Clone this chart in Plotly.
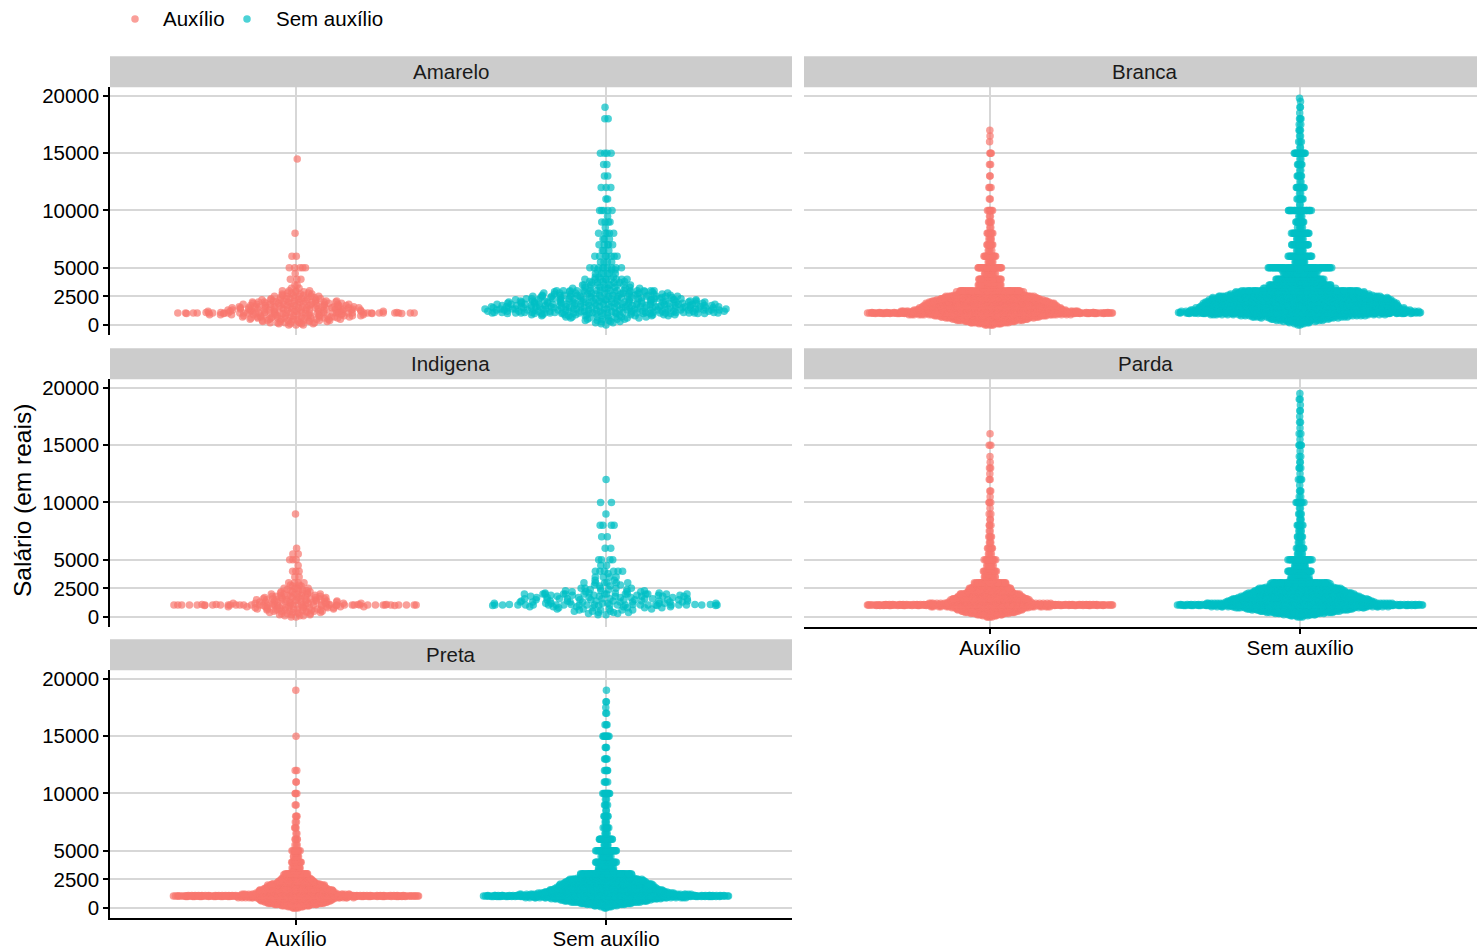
import numpy as np
import plotly.graph_objects as go

W, H = 1477, 949
COR_AUXILIO = "#F8766D"
COR_SEM = "#00BFC4"
GRID = "#D7D7D7"
FONTE = "Liberation Sans, Arial, sans-serif"

racas = ["Amarelo", "Branca", "Indigena", "Parda", "Preta"]
grupos = ["Auxílio", "Sem auxílio"]
y_ticks = [0, 2500, 5000, 10000, 15000, 20000]

# salary values (R$) and how many people earn each value, by race and aid status
amarelo_aux_salarios = [0, 100, 200, 300, 400, 500, 600, 700, 800, 900, 1000, 1045, 1100, 1200, 1300, 1400, 1500,
                        1600, 1700, 1800, 1900, 2000, 2100, 2200, 2300, 2400, 2500, 2600, 2700, 2800, 2900, 3000,
                        3200, 3500, 4000, 4500, 5000, 6000, 8000, 14500]
amarelo_aux_contagens = [3, 4, 5, 6, 7, 8, 9, 10, 11, 11, 7, 34, 7, 12, 12, 12, 11,
                         11, 10, 9, 8, 9, 7, 6, 5, 4, 5, 3, 3, 3, 2, 4,
                         2, 2, 3, 1, 5, 2, 1, 1]

amarelo_sem_salarios = [0, 100, 200, 300, 400, 500, 600, 700, 800, 900, 1000, 1045, 1100, 1200, 1300, 1400, 1500,
                        1600, 1700, 1800, 1900, 2000, 2100, 2200, 2300, 2400, 2500, 2600, 2700, 2800, 2900, 3000,
                        3200, 3300, 3500, 3700, 3800, 4000, 4200, 4500, 4800, 5000, 5500, 6000, 6500, 7000, 7500,
                        8000, 8500, 9000, 9500, 10000, 11000, 12000, 13000, 14000, 15000, 18000, 19000]
amarelo_sem_contagens = [1, 1, 2, 3, 3, 4, 5, 6, 8, 10, 12, 16, 14, 17, 17, 17, 19,
                         18, 16, 16, 15, 17, 13, 13, 12, 11, 13, 9, 9, 9, 7, 16,
                         6, 4, 10, 4, 3, 9, 3, 6, 3, 9, 4, 7, 3, 5, 3,
                         5, 1, 4, 1, 5, 2, 3, 2, 2, 4, 2, 1]

branca_aux_salarios = [0, 100, 200, 300, 400, 500, 600, 700, 800, 900, 1000, 1045, 1100, 1200, 1300, 1400, 1500,
                       1600, 1700, 1800, 1900, 2000, 2100, 2200, 2300, 2400, 2500, 2600, 2700, 2800, 2900, 3000,
                       3200, 3500, 3700, 4000, 4200, 4500, 4800, 5000, 5500, 6000, 6500, 7000, 7500, 8000, 8500,
                       9000, 9500, 10000, 11000, 12000, 13000, 14000, 15000, 16000, 16500, 17000]
branca_aux_contagens = [5, 10, 17, 24, 29, 34, 38, 43, 48, 53, 45, 150, 45, 67, 65, 63, 61,
                        60, 58, 56, 53, 60, 48, 46, 43, 40, 45, 28, 26, 26, 25, 48,
                        12, 26, 6, 26, 4, 12, 4, 27, 7, 15, 4, 8, 4, 7, 2,
                        4, 2, 6, 2, 3, 2, 2, 3, 1, 1, 1]

branca_sem_salarios = [0, 100, 200, 300, 400, 500, 600, 700, 800, 900, 1000, 1045, 1100, 1200, 1300, 1400, 1500,
                       1600, 1700, 1800, 1900, 2000, 2100, 2200, 2300, 2400, 2500, 2600, 2700, 2800, 2900, 3000,
                       3200, 3300, 3500, 3700, 3800, 4000, 4200, 4500, 4800, 5000, 5500, 6000, 6500, 7000, 7500,
                       8000, 8500, 9000, 9500, 10000, 10500, 11000, 11500, 12000, 12500, 13000, 13500, 14000,
                       14500, 15000, 15500, 16000, 16500, 17000, 17500, 18000, 18500, 19000, 19500, 19800]
branca_sem_contagens = [2, 3, 6, 9, 13, 17, 21, 26, 30, 35, 45, 75, 50, 60, 59, 58, 60,
                        55, 54, 53, 52, 58, 51, 50, 49, 48, 55, 36, 35, 35, 35, 60,
                        24, 22, 45, 15, 12, 40, 12, 32, 10, 62, 12, 25, 8, 18, 8,
                        20, 5, 10, 4, 25, 2, 7, 2, 10, 2, 6, 2, 6,
                        2, 13, 2, 3, 2, 3, 2, 3, 1, 2, 1, 1]

indigena_aux_salarios = [0, 100, 200, 300, 400, 500, 600, 700, 800, 900, 1000, 1045, 1100, 1200, 1300, 1400, 1500,
                         1600, 1700, 1800, 1900, 2000, 2100, 2200, 2300, 2400, 2500, 2700, 2800, 3000, 3500,
                         4000, 4500, 5000, 5500, 6000, 9000]
indigena_aux_contagens = [2, 3, 3, 4, 5, 6, 6, 7, 8, 8, 6, 40, 6, 8, 8, 7, 7,
                          7, 6, 5, 4, 6, 3, 3, 3, 2, 4, 2, 2, 4, 2,
                          3, 1, 3, 2, 1, 1]

indigena_sem_salarios = [200, 300, 400, 500, 600, 700, 800, 900, 1000, 1045, 1100, 1200, 1300, 1400, 1500,
                         1600, 1700, 1800, 1900, 2000, 2100, 2200, 2300, 2400, 2500, 2700, 2800, 3000, 3200,
                         3500, 3800, 4000, 4500, 5000, 6000, 7000, 8000, 9000, 10000, 12000]
indigena_sem_contagens = [2, 2, 3, 3, 4, 4, 5, 5, 4, 22, 5, 8, 8, 8, 8,
                          8, 7, 7, 6, 14, 4, 4, 3, 3, 5, 2, 2, 6, 2,
                          4, 1, 6, 2, 4, 2, 2, 4, 1, 2, 1]

parda_aux_salarios = [0, 100, 200, 300, 400, 500, 600, 700, 800, 900, 1000, 1045, 1100, 1200, 1300, 1400, 1500,
                      1600, 1700, 1800, 1900, 2000, 2100, 2200, 2300, 2400, 2500, 2600, 2700, 2800, 2900, 3000,
                      3200, 3500, 3700, 4000, 4200, 4500, 4800, 5000, 5500, 6000, 6500, 7000, 7500, 8000, 8500,
                      9000, 9500, 10000, 10500, 11000, 12000, 12500, 13000, 13500, 14000, 15000, 16000]
parda_aux_contagens = [4, 7, 13, 20, 25, 30, 32, 34, 36, 38, 50, 170, 50, 40, 40, 39, 40,
                       38, 34, 31, 28, 35, 23, 22, 21, 20, 26, 15, 14, 14, 13, 26,
                       7, 13, 4, 15, 3, 8, 3, 13, 4, 6, 3, 4, 2, 3, 2,
                       2, 1, 3, 1, 2, 2, 1, 2, 1, 1, 2, 1]

parda_sem_salarios = [0, 100, 200, 300, 400, 500, 600, 700, 800, 900, 1000, 1045, 1100, 1200, 1300, 1400, 1500,
                      1600, 1700, 1800, 1900, 2000, 2100, 2200, 2300, 2400, 2500, 2600, 2700, 2800, 2900, 3000,
                      3200, 3500, 3700, 4000, 4200, 4500, 4800, 5000, 5500, 6000, 6500, 7000, 7500, 8000, 8500,
                      9000, 9500, 10000, 10500, 11000, 11500, 12000, 12500, 13000, 13500, 14000, 14500, 15000,
                      15500, 16000, 16500, 17000, 17500, 18000, 18500, 19000, 19500]
parda_sem_contagens = [3, 7, 13, 20, 27, 33, 38, 43, 48, 52, 60, 110, 62, 60, 58, 56, 58,
                       52, 50, 46, 43, 48, 38, 37, 36, 34, 38, 24, 23, 22, 22, 40,
                       13, 20, 9, 26, 7, 14, 6, 26, 6, 10, 4, 7, 4, 7, 3,
                       4, 2, 9, 2, 3, 1, 4, 1, 3, 2, 2, 1, 4,
                       1, 2, 1, 2, 1, 2, 1, 2, 1]

preta_aux_salarios = [0, 100, 200, 300, 400, 500, 600, 700, 800, 900, 1000, 1045, 1100, 1200, 1300, 1400, 1500,
                      1600, 1700, 1800, 1900, 2000, 2100, 2200, 2300, 2400, 2500, 2600, 2700, 2800, 2900, 3000,
                      3200, 3500, 3700, 4000, 4200, 4500, 4800, 5000, 5500, 6000, 6500, 7000, 7500, 8000, 9000,
                      10000, 11000, 12000, 15000, 19000]
preta_aux_contagens = [4, 9, 16, 24, 32, 36, 38, 40, 42, 44, 55, 170, 55, 44, 43, 42, 42,
                       40, 36, 32, 30, 35, 26, 22, 20, 18, 20, 14, 13, 13, 12, 20,
                       6, 10, 4, 12, 3, 7, 3, 10, 3, 4, 2, 3, 2, 3, 2,
                       3, 2, 2, 1, 1]

preta_sem_salarios = [0, 100, 200, 300, 400, 500, 600, 700, 800, 900, 1000, 1045, 1100, 1200, 1300, 1400, 1500,
                      1600, 1700, 1800, 1900, 2000, 2100, 2200, 2300, 2400, 2500, 2600, 2700, 2800, 2900, 3000,
                      3200, 3500, 3700, 4000, 4200, 4500, 4800, 5000, 5500, 6000, 6500, 7000, 7500, 8000, 8500,
                      9000, 9500, 10000, 11000, 12000, 13000, 14000, 15000, 16000, 17000, 17500, 18000, 19000]
preta_sem_contagens = [2, 5, 10, 17, 25, 32, 38, 42, 46, 50, 70, 120, 72, 62, 58, 55, 55,
                       50, 46, 44, 42, 46, 40, 38, 36, 34, 40, 22, 21, 20, 20, 42,
                       12, 18, 8, 24, 6, 12, 5, 24, 6, 17, 4, 7, 3, 6, 2,
                       4, 2, 10, 4, 5, 4, 3, 8, 3, 2, 1, 2, 1]

dados = {
    ("Amarelo", "Auxílio"): (amarelo_aux_salarios, amarelo_aux_contagens),
    ("Amarelo", "Sem auxílio"): (amarelo_sem_salarios, amarelo_sem_contagens),
    ("Branca", "Auxílio"): (branca_aux_salarios, branca_aux_contagens),
    ("Branca", "Sem auxílio"): (branca_sem_salarios, branca_sem_contagens),
    ("Indigena", "Auxílio"): (indigena_aux_salarios, indigena_aux_contagens),
    ("Indigena", "Sem auxílio"): (indigena_sem_salarios, indigena_sem_contagens),
    ("Parda", "Auxílio"): (parda_aux_salarios, parda_aux_contagens),
    ("Parda", "Sem auxílio"): (parda_sem_salarios, parda_sem_contagens),
    ("Preta", "Auxílio"): (preta_aux_salarios, preta_aux_contagens),
    ("Preta", "Sem auxílio"): (preta_sem_salarios, preta_sem_contagens),
}


def van_der_corput(n, base=2):
    seq = np.empty(n)
    for i in range(1, n + 1):
        q, denom, v = i, 1.0, 0.0
        while q:
            denom *= base
            q, r = divmod(q, base)
            v += r / denom
        seq[i - 1] = v
    return seq


def bw_nrd0(y):
    sd = np.std(y, ddof=1)
    q75, q25 = np.percentile(y, [75, 25])
    lo = min(sd, (q75 - q25) / 1.34)
    if lo <= 0:
        lo = sd if sd > 0 else 1.0
    return 0.9 * lo * len(y) ** -0.2


def quasirandom_offsets(y, width=0.4, adjust=0.5):
    """Horizontal offsets of a quasirandom swarm: van der Corput spread scaled by the KDE."""
    bw = bw_nrd0(y) * adjust
    vals, cnts = np.unique(y, return_counts=True)
    grid = np.linspace(vals.min() - 3 * bw, vals.max() + 3 * bw, 1024)
    kern = lambda pts: (cnts * np.exp(-0.5 * ((pts[:, None] - vals[None, :]) / bw) ** 2)).sum(axis=1)
    dens_grid = kern(grid)
    dens_vals = kern(vals)
    dmax = max(dens_grid.max(), dens_vals.max())
    dens_y = np.interp(y, vals, dens_vals) / dmax
    order = np.argsort(y, kind="stable")
    rank = np.empty(len(y), dtype=int)
    rank[order] = np.arange(len(y))
    vdc = van_der_corput(len(y))
    return (vdc[rank] - 0.5) * 2 * width * dens_y


# panel layout (pixels): column x-extent, row panel top/bottom
col_px = [(110, 792), (804, 1477)]
unit_px = 310.0
row_px = [(87.3, 335.3), (379.3, 627.3), (670.3, 918.3)]
STRIP_H = 31
Y_RANGE = [-900, 20750]
MARKER_SIZE = 7.5
MARKER_ALPHA = 0.7

paineis = {"Amarelo": (0, 0), "Branca": (0, 1), "Indigena": (1, 0), "Parda": (1, 1), "Preta": (2, 0)}
com_eixo_x = {"Parda", "Preta"}

fig = go.Figure()
layout = dict(
    width=W, height=H, margin=dict(l=0, r=0, t=0, b=0, autoexpand=False),
    plot_bgcolor="white", paper_bgcolor="white",
    font=dict(family=FONTE, size=20.5, color="black"),
    showlegend=False,
    shapes=[], annotations=[],
)

for k, raca in enumerate(racas, start=1):
    r, c = paineis[raca]
    x0p, x1p = col_px[c]
    top, bot = row_px[r]
    xname = "xaxis" if k == 1 else f"xaxis{k}"
    yname = "yaxis" if k == 1 else f"yaxis{k}"
    xref = "x" if k == 1 else f"x{k}"
    yref = "y" if k == 1 else f"y{k}"
    bottom_axis = raca in com_eixo_x
    left_axis = c == 0

    layout[xname] = dict(
        domain=[x0p / W, x1p / W], range=[0.4, 0.4 + (x1p - x0p) / unit_px], anchor=yref,
        tickvals=[1, 2], ticktext=grupos, showgrid=True, gridcolor=GRID, gridwidth=1.6,
        zeroline=False, showline=bottom_axis, linecolor="black", linewidth=1.5,
        ticks="outside" if bottom_axis else "", ticklen=5, tickwidth=1.5, tickcolor="black",
        showticklabels=bottom_axis, tickfont=dict(size=20.5, color="black"),
        ticklabelstandoff=-4,
    )
    layout[yname] = dict(
        domain=[1 - bot / H, 1 - top / H], range=Y_RANGE, anchor=xref,
        tickvals=y_ticks, ticktext=[str(v) for v in y_ticks], showgrid=True, gridcolor=GRID,
        gridwidth=1.6, zeroline=False, showline=left_axis, linecolor="black", linewidth=1.5,
        ticks="outside" if left_axis else "", ticklen=5, tickwidth=1.5, tickcolor="black",
        showticklabels=left_axis, tickfont=dict(size=20.5, color="black"),
    )

    # facet strip
    layout["shapes"].append(dict(type="rect", xref="paper", yref="paper",
                                 x0=x0p / W, x1=x1p / W, y0=1 - top / H, y1=1 - (top - STRIP_H) / H,
                                 fillcolor="#CCCCCC", line=dict(width=0)))
    layout["annotations"].append(dict(text=raca, xref="paper", yref="paper",
                                      x=(x0p + (x0p + 2.2 * unit_px)) / 2 / W, y=1 - (top - STRIP_H / 2) / H,
                                      showarrow=False, font=dict(size=20.5, color="#1A1A1A"),
                                      xanchor="center", yanchor="middle"))

    for gi, grupo in enumerate(grupos):
        sal, cont = dados[(raca, grupo)]
        y = np.repeat(np.asarray(sal, dtype=float), cont)
        x = (gi + 1) + quasirandom_offsets(y)
        cor = COR_AUXILIO if gi == 0 else COR_SEM
        fig.add_trace(go.Scatter(
            x=x, y=y, xaxis=xref, yaxis=yref, mode="markers", name=grupo,
            marker=dict(color=cor, size=MARKER_SIZE, opacity=MARKER_ALPHA, line=dict(width=0)),
            hoverinfo="skip",
        ))

# legend along the top: a dot and a label per group
legenda_px = [(135, 161), (247, 274)]
LEG_Y = 19
for (cx, tx), grupo, cor in zip(legenda_px, grupos, [COR_AUXILIO, COR_SEM]):
    rr = MARKER_SIZE / 2
    layout["shapes"].append(dict(type="circle", xref="paper", yref="paper",
                                 x0=(cx - rr) / W, x1=(cx + rr) / W,
                                 y0=1 - (LEG_Y + rr) / H, y1=1 - (LEG_Y - rr) / H,
                                 fillcolor=cor, opacity=MARKER_ALPHA, line=dict(width=0)))
    layout["annotations"].append(dict(text=grupo, xref="paper", yref="paper", x=tx / W, y=1 - LEG_Y / H,
                                      xanchor="left", yanchor="middle", showarrow=False,
                                      font=dict(size=20.5, color="black")))

layout["annotations"].append(dict(text="Salário (em reais)", xref="paper", yref="paper",
                                  x=22 / W, y=1 - 501 / H, textangle=-90, showarrow=False,
                                  font=dict(size=24.5, color="black"), xanchor="center", yanchor="middle"))

fig.update_layout(**layout)
fig.write_html("out.html")
